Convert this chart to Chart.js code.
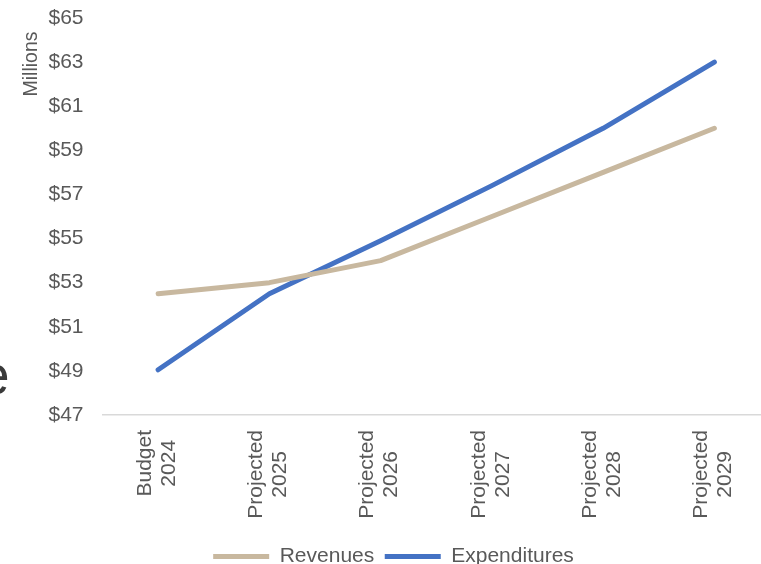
<!DOCTYPE html>
<html>
<head>
<meta charset="utf-8">
<script src="https://cdn.jsdelivr.net/npm/chart.js"></script>
<style>
  html, body { margin: 0; padding: 0; overflow: hidden; background: #fff; }
  #wrap { position: relative; width: 761px; height: 564px; overflow: hidden; }
  #chart { position: absolute; left: 0; top: 0; }
  #cut { position: absolute; left: -21px; top: 348px; font: 55px/55px "Liberation Sans", Arial, sans-serif; color: #3a3a3a; }
</style>
</head>
<body>
<div id="wrap">
  <div id="cut">e</div>
  <canvas id="chart" width="770" height="577"></canvas>
</div>
<script>
let categories = [
    ['Budget', '2024'],
    ['Projected', '2025'],
    ['Projected', '2026'],
    ['Projected', '2027'],
    ['Projected', '2028'],
    ['Projected', '2029']
];
let revenues = [52.5, 53, 54, 56, 58, 60];
let expenditures = [49.05, 52.5, 54.9, 57.4, 60, 63];
let yTicks = [47, 49, 51, 53, 55, 57, 59, 61, 63, 65];

const textColor = '#595959';
const fontFamily = '"Liberation Sans", Arial, sans-serif';

// category labels: rotated, lines centred on each other (like the office export)
const xLabelPlugin = {
    id: 'xLabels',
    afterDraw(chart) {
        const ctx = chart.ctx;
        const x = chart.scales.x;
        ctx.save();
        ctx.font = '21px ' + fontFamily;
        ctx.fillStyle = textColor;
        ctx.textAlign = 'center';
        ctx.textBaseline = 'middle';
        const lineH = 24;
        categories.forEach((lines, i) => {
            const px = x.getPixelForTick(i);
            const maxW = Math.max(...lines.map(l => ctx.measureText(l).width));
            ctx.save();
            ctx.translate(px - 1, x.top + 15 + maxW / 2);
            ctx.rotate(-Math.PI / 2);
            lines.forEach((l, j) => {
                ctx.fillText(l, 0, (j - (lines.length - 1) / 2) * lineH);
            });
            ctx.restore();
        });

        // axis title
        ctx.font = '19.5px ' + fontFamily;
        ctx.textAlign = 'left';
        ctx.textBaseline = 'alphabetic';
        ctx.translate(37, 96.5);
        ctx.rotate(-Math.PI / 2);
        ctx.fillText('Millions', 0, 0);
        ctx.restore();
    }
};

let ctx = document.getElementById('chart').getContext('2d');

let budgetChart = new Chart(ctx, {
    type: 'line',
    data: {
        labels: categories,
        datasets: [{
            label: 'Revenues',
            data: revenues,
            borderColor: '#C8B89F',
            backgroundColor: '#C8B89F',
            borderWidth: 5,
            borderCapStyle: 'round',
            borderJoinStyle: 'round',
            pointRadius: 0,
            tension: 0
        }, {
            label: 'Expenditures',
            data: expenditures,
            borderColor: '#4472C4',
            backgroundColor: '#4472C4',
            borderWidth: 5,
            borderCapStyle: 'round',
            borderJoinStyle: 'round',
            pointRadius: 0,
            tension: 0
        }]
    },
    options: {
        responsive: false,
        animation: false,
        layout: {
            padding: { left: 17, top: 18, right: 0, bottom: 0 }
        },
        plugins: {
            tooltip: { enabled: false },
            legend: {
                display: true,
                position: 'bottom',
                labels: {
                    color: textColor,
                    font: { family: fontFamily, size: 21 },
                    usePointStyle: true,
                    pointStyle: 'line',
                    pointStyleWidth: 56,
                    padding: 10.5
                }
            }
        },
        scales: {
            x: {
                offset: true,
                grid: { display: false },
                border: { display: true, color: '#d9d9d9', width: 1.5 },
                ticks: { display: false },
                afterFit(scale) { scale.height = 120.5; }
            },
            y: {
                min: 47,
                max: 65,
                grid: { display: false, drawTicks: false },
                border: { display: false },
                afterBuildTicks(scale) {
                    scale.ticks = yTicks.map(v => ({ value: v }));
                },
                afterFit(scale) {
                    scale.width = 85.5;
                    scale.paddingTop = 0;
                    scale.paddingBottom = 0;
                },
                ticks: {
                    color: textColor,
                    padding: 19,
                    font: { family: fontFamily, size: 21 },
                    callback: v => '$' + v
                }
            }
        }
    },
    plugins: [xLabelPlugin]
});
</script>
</body>
</html>
